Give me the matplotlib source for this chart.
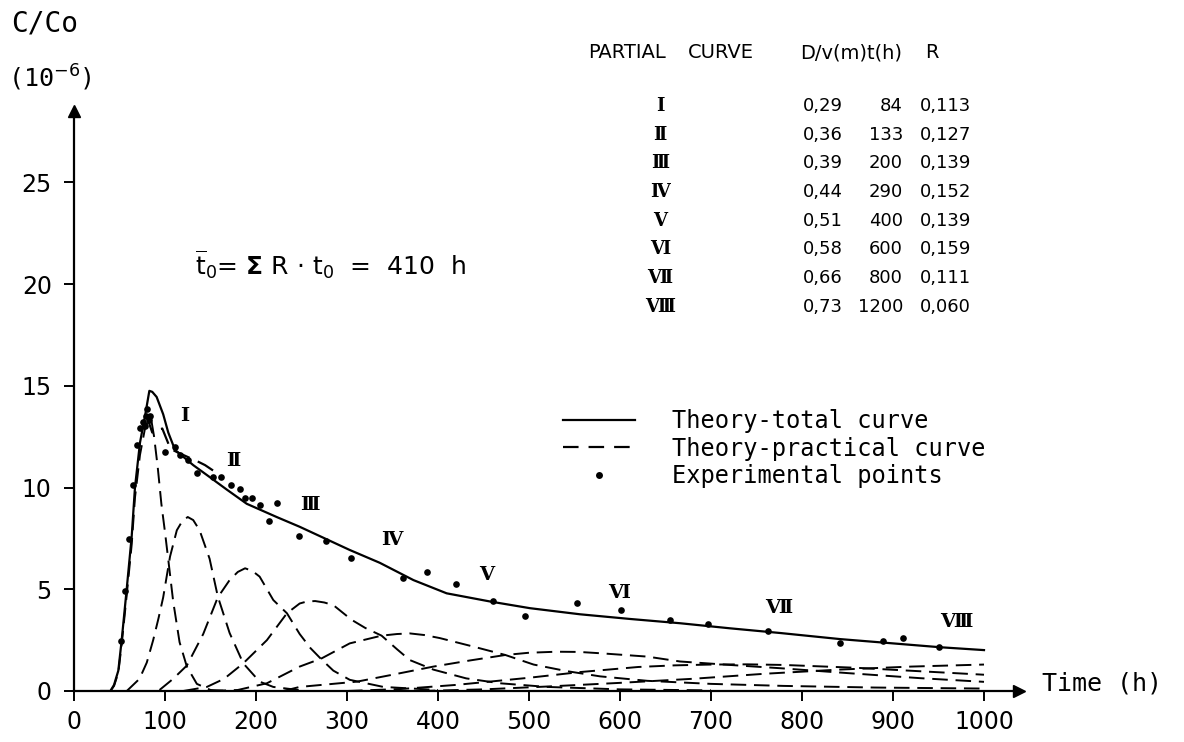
import matplotlib
matplotlib.use("Agg")
import matplotlib.pyplot as plt
from matplotlib.lines import Line2D

# total theoretical curve
total_t = [30, 40, 44, 48.7, 52.4, 57.9, 63.4, 67, 72.5, 78, 82.8, 86, 90.8, 98, 103.6,
           111, 131, 149.5, 167.8, 189.8, 222.7, 248, 303, 336, 373, 409.5, 457,
           501, 556, 611, 666, 721, 776, 842, 889, 952, 1000]
total_c = [0, 0, 0.3, 1.0, 2.5, 5.0, 7.6, 10.0, 12.2, 13.5, 14.75, 14.7, 14.45, 13.6, 12.7,
           11.85, 11.1, 10.5, 9.9, 9.2, 8.55, 8.07, 6.93, 6.3, 5.45, 4.8, 4.4,
           4.07, 3.77, 3.54, 3.33, 3.08, 2.85, 2.55, 2.38, 2.15, 2.01]

# theory-practical curve near the peak
prac_t = [80, 86, 92, 97, 106, 115, 125, 135, 144, 154, 163]
prac_c = [13.5, 12.7, 12.8, 12.9, 11.9, 11.7, 11.5, 11.3, 11.1, 10.8, 10.4]

# partial curves I..VIII
part_t = [
    [40, 44, 48.7, 52.4, 57.9, 63.4, 67, 72.5, 78, 82, 85, 88, 92, 96, 100, 104, 109, 116, 124, 135, 150, 170],
    [58, 72, 80, 87, 93, 98, 105.5, 113, 119, 125, 131, 138, 149, 158, 171, 186, 204, 219, 250],
    [94, 109, 124, 142, 158, 171, 180, 188, 196, 204, 219, 234, 248, 260, 272, 285, 303, 340, 400],
    [120, 146, 165, 186, 212, 234, 248, 256, 265, 275, 285, 305, 320, 338, 355, 369, 395, 431, 468, 520, 600, 700],
    [150, 180, 212, 248, 272, 303, 338, 355, 369, 385, 402, 439, 474, 505, 541, 578, 630, 700, 780, 880, 1000],
    [230, 248, 311, 350, 395, 435, 474, 500, 530, 555, 580, 630, 666, 721, 776, 850, 930, 1000],
    [300, 360, 420, 500, 556, 620, 660, 700, 740, 780, 860, 930, 1000],
    [380, 450, 520, 600, 680, 760, 840, 920, 1000],
]
part_c = [
    [0, 0.25, 0.9, 2.3, 4.7, 7.2, 9.5, 11.6, 12.9, 13.35, 13.3, 12.5, 11.0, 9.2, 7.8, 6.3, 4.4, 2.4, 1.2, 0.35, 0.05, 0],
    [0, 0.6, 1.4, 2.5, 3.6, 4.6, 6.6, 7.9, 8.35, 8.55, 8.4, 7.9, 6.5, 4.65, 2.85, 1.36, 0.46, 0.2, 0.03],
    [0.05, 0.6, 1.25, 2.8, 4.6, 5.45, 5.85, 6.03, 5.9, 5.62, 4.47, 3.82, 2.8, 2.1, 1.55, 1.0, 0.55, 0.2, 0.05],
    [0, 0.2, 0.6, 1.36, 2.5, 3.82, 4.3, 4.4, 4.42, 4.35, 4.22, 3.5, 3.1, 2.72, 2.05, 1.52, 1.05, 0.62, 0.38, 0.2, 0.08, 0.03],
    [0, 0.05, 0.38, 1.2, 1.6, 2.34, 2.72, 2.8, 2.83, 2.75, 2.6, 2.18, 1.77, 1.3, 0.98, 0.72, 0.5, 0.35, 0.25, 0.17, 0.12],
    [0, 0.2, 0.46, 0.8, 1.2, 1.5, 1.77, 1.88, 1.93, 1.92, 1.85, 1.69, 1.45, 1.28, 1.12, 0.88, 0.63, 0.45],
    [0, 0.1, 0.3, 0.65, 0.93, 1.18, 1.26, 1.3, 1.31, 1.28, 1.14, 0.97, 0.8],
    [0, 0.08, 0.22, 0.4, 0.6, 0.85, 1.05, 1.2, 1.3],
]

# experimental points
exp_t = [51.6, 56, 60.8, 64.5, 68.9, 72.5, 75.5, 77.5, 79, 80.6, 82.8, 84, 100, 111,
         116.5, 125.6, 134.8, 153, 162, 173, 182, 188, 196, 204, 214.6, 222.7,
         247.6, 277, 304, 361, 387.5, 420, 460, 496, 553, 601, 655, 697, 763,
         842, 889, 911, 951]
exp_c = [2.48, 4.9, 7.45, 10.1, 12.1, 12.9, 13.2, 13.0, 13.5, 13.85, 13.3, 13.5, 11.76,
         11.97, 11.6, 11.35, 10.73, 10.5, 10.5, 10.1, 9.95, 9.46, 9.46, 9.14, 8.37,
         9.25, 7.63, 7.39, 6.55, 5.53, 5.83, 5.26, 4.42, 3.68, 4.34, 4.0, 3.49,
         3.29, 2.93, 2.37, 2.44, 2.62, 2.15]

# labels of partial curves and their positions
numerals = ["\u2160", "\u2161", "\u2162", "\u2163", "\u2164", "\u2165", "\u2166", "\u2167"]
label_t = [122, 175, 259, 349, 453, 599, 774, 970]
label_c = [13.5, 11.3, 9.15, 7.4, 5.7, 4.8, 4.06, 3.4]

# table values
table_dv = ["0,29", "0,36", "0,39", "0,44", "0,51", "0,58", "0,66", "0,73"]
table_t0 = ["84", "133", "200", "290", "400", "600", "800", "1200"]
table_r = ["0,113", "0,127", "0,139", "0,152", "0,139", "0,159", "0,111", "0,060"]

MONO = "DejaVu Sans Mono"
W, H = 1184, 742
fig = plt.figure(figsize=(W / 100, H / 100), dpi=100)
ax = fig.add_axes([74 / W, 51 / H, 1038 * 0.91 / W, 580 / H])
ax.set_xlim(0, 1038)
ax.set_ylim(0, 580 / 20.35)

dash = (0, (8, 4))
ax.plot(total_t, total_c, color="black", lw=1.6, solid_joinstyle="round")
ax.plot(prac_t, prac_c, color="black", lw=1.6, linestyle=dash)
for tt, cc in zip(part_t, part_c):
    ax.plot(tt, cc, color="black", lw=1.4, linestyle=dash)
ax.plot(exp_t, exp_c, "o", color="black", ms=4.8, mec="none")

for lab, tx, cy in zip(numerals, label_t, label_c):
    ax.text(tx, cy, lab, ha="center", va="center", fontsize=14,
            family="DejaVu Serif", fontweight="bold")

# axes look
for s in ["top", "right"]:
    ax.spines[s].set_visible(False)
for s in ["left", "bottom"]:
    ax.spines[s].set_linewidth(1.6)
ax.set_xticks(range(0, 1001, 100))
ax.set_yticks(range(0, 26, 5))
ax.tick_params(axis="both", direction="out", length=7, width=1.4, labelsize=17)
ax.tick_params(axis="x", pad=7)
ax.tick_params(axis="y", pad=9)
ax.plot(1, 0, ">", color="black", ms=9, transform=ax.get_yaxis_transform(), clip_on=False)
ax.plot(0, 1, "^", color="black", ms=9, transform=ax.get_xaxis_transform(), clip_on=False)

fig.text(1042 / W, 1 - 684 / H, "Time (h)", fontsize=18, family=MONO, va="center", ha="left")
fig.text(11 / W, 1 - 24 / H, "C/Co", fontsize=20, family=MONO, va="center", ha="left")
fig.text(8 / W, 1 - 78 / H, "(10$^{-6}$)", fontsize=18, family=MONO, va="center", ha="left")

ax.text(0.128, 0.735,
        r"$\overline{\mathrm{t}}_0$= $\mathbf{\Sigma}$ R $\cdot$ t$_0$  =  410  h",
        transform=ax.transAxes, fontsize=18, va="center", ha="left")

# table
fig.text(588 / W, 1 - 53 / H, "PARTIAL", fontsize=14, va="center", ha="left")
fig.text(688 / W, 1 - 53 / H, "CURVE", fontsize=14, va="center", ha="left")
fig.text(800 / W, 1 - 53 / H, "D/v(m)t(h)", fontsize=14, va="center", ha="left")
fig.text(925 / W, 1 - 53 / H, "R", fontsize=14, va="center", ha="left")
for i in range(len(numerals)):
    yy = 1 - (106 + i * 28.7) / H
    fig.text(660 / W, yy, numerals[i], fontsize=13, family="DejaVu Serif",
             fontweight="bold", va="center", ha="center")
    fig.text(803 / W, yy, table_dv[i], fontsize=13, va="center", ha="left")
    fig.text(903 / W, yy, table_t0[i], fontsize=13, va="center", ha="right")
    fig.text(920 / W, yy, table_r[i], fontsize=13, va="center", ha="left")

handles = [Line2D([], [], color="black", lw=1.6),
           Line2D([], [], color="black", lw=1.6, linestyle=(0, (7, 4.5))),
           Line2D([], [], color="black", marker="o", ms=5, lw=0, mec="none")]
ax.legend(handles, ["Theory-total curve", "Theory-practical curve", "Experimental points"],
          loc="upper left", bbox_to_anchor=(563 / W, 1 - 409 / H), bbox_transform=fig.transFigure,
          frameon=False, prop={"family": MONO, "size": 17}, handlelength=3.05,
          handletextpad=1.55, labelspacing=0.15, borderpad=0, borderaxespad=0)

fig.savefig("out.png", dpi=100)
